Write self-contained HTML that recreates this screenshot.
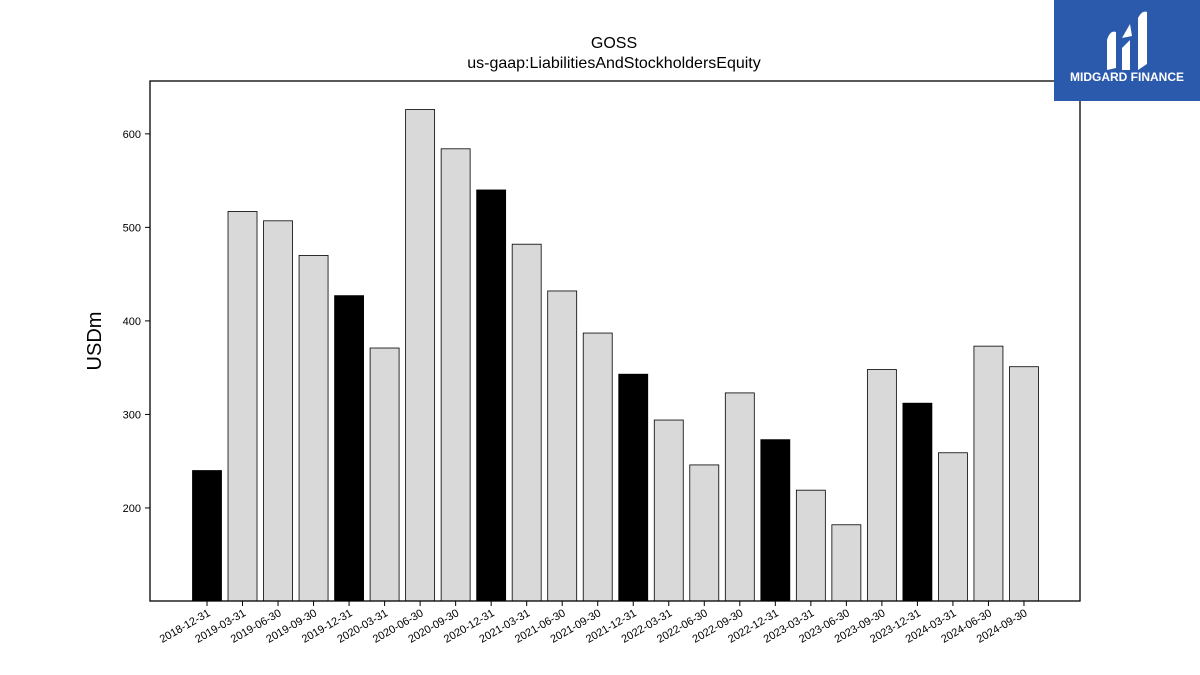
<!DOCTYPE html>
<html><head><meta charset="utf-8"><style>
body{margin:0;background:#fff;font-family:"Liberation Sans","DejaVu Sans",sans-serif}
svg{display:block}
</style></head><body>
<svg width="1200" height="675" xmlns="http://www.w3.org/2000/svg">
<text x="614" y="48" text-anchor="middle" font-size="16">GOSS</text>
<text x="614" y="68" text-anchor="middle" font-size="16">us-gaap:LiabilitiesAndStockholdersEquity</text>
<text transform="translate(101,341) rotate(-90)" text-anchor="middle" font-size="20">USDm</text>
<g id="bars"></g>
<g id="yticks"></g>
<g id="xticks"></g>
<rect x="150" y="81" width="930" height="520" fill="none" stroke="#000" stroke-width="1.3"/>
<g>
<rect x="1054" y="0" width="146" height="101" fill="#2b5aad"/>
<path d="M1107 70 L1107 40 Q1110 30 1116 32 L1116 68 Z M1122 70 L1122 48 L1130 40 L1130 70 Z M1138 70 L1138 18 Q1142 10 1147 12 L1147 64 Z M1122 38 L1130 24 L1132 36 Z" fill="#fff"/>
<text x="1127" y="81" text-anchor="middle" font-size="12" font-weight="bold" fill="#fff">MIDGARD FINANCE</text>
</g>
</svg>
<script>
const categories=["2018-12-31","2019-03-31","2019-06-30","2019-09-30","2019-12-31","2020-03-31","2020-06-30","2020-09-30","2020-12-31","2021-03-31","2021-06-30","2021-09-30","2021-12-31","2022-03-31","2022-06-30","2022-09-30","2022-12-31","2023-03-31","2023-06-30","2023-09-30","2023-12-31","2024-03-31","2024-06-30","2024-09-30"];
const values=[240,517,507,470,427,371,626,584,540,482,432,387,343,294,246,323,273,219,182,348,312,259,373,351];
const yTicks=[200,300,400,500,600];
const NS="http://www.w3.org/2000/svg";
const x0=150,x1=1080,yTop=81,yBot=601,yMin=100.5,yMax=656.5;
function yScale(v){return yBot-(v-yMin)/(yMax-yMin)*(yBot-yTop);}
const step=35.52, first=207;
function xScale(i){return first+i*step;}
const bw=29;
const gb=document.getElementById('bars'),gy=document.getElementById('yticks'),gx=document.getElementById('xticks');
values.forEach((v,i)=>{
 const r=document.createElementNS(NS,'rect');
 
 
 const y=yScale(v);
 r.setAttribute('x',xScale(i)-bw/2);r.setAttribute('y',y);
 r.setAttribute('width',bw);r.setAttribute('height',yBot-y);
 r.setAttribute('fill',categories[i].endsWith('12-31')?'#000':'#d9d9d9');
 r.setAttribute('stroke','#000');r.setAttribute('stroke-width','0.8');
 gb.appendChild(r);
 const t=document.createElementNS(NS,'line');
 
 
 t.setAttribute('x1',xScale(i));t.setAttribute('x2',xScale(i));t.setAttribute('y1',yBot);t.setAttribute('y2',yBot+5);t.setAttribute('stroke','#000');
 gx.appendChild(t);
 const l=document.createElementNS(NS,'text');
 
 
 const lx=xScale(i)+4,ly=yBot+14;
 l.setAttribute('x',lx);l.setAttribute('y',ly);l.setAttribute('font-size','11');l.setAttribute('text-anchor','end');
 l.setAttribute('transform','rotate(-30 '+lx+' '+ly+')');
 l.textContent=categories[i];gx.appendChild(l);
});
yTicks.forEach(v=>{
 const y=yScale(v);
 const t=document.createElementNS(NS,'line');
 
 
 t.setAttribute('x1',x0-5);t.setAttribute('x2',x0);t.setAttribute('y1',y);t.setAttribute('y2',y);t.setAttribute('stroke','#000');
 gy.appendChild(t);
 const l=document.createElementNS(NS,'text');
 
 
 l.setAttribute('x',x0-9);l.setAttribute('y',y+4);l.setAttribute('font-size','11');l.setAttribute('text-anchor','end');
 l.textContent=v;gy.appendChild(l);
});
</script>
</body></html>
